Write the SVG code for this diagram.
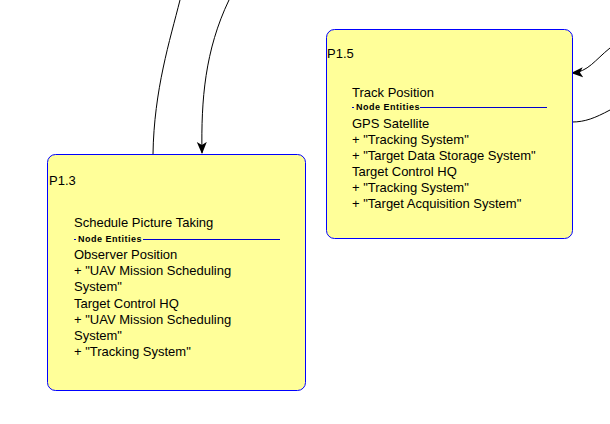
<svg xmlns="http://www.w3.org/2000/svg" width="610" height="424" viewBox="0 0 610 424">
<defs>
<marker id="arr" viewBox="0 0 12 12" refX="11" refY="6" markerWidth="12" markerHeight="12" markerUnits="userSpaceOnUse" orient="auto">
<path d="M0,1 L12,6 L0,11 L3,6 Z" fill="#000"/>
</marker>
<style>
.box{fill:#ffff99;stroke:#0000ff;stroke-width:1}
.t{font-family:"Liberation Sans",Arial,sans-serif;font-size:13px;fill:#000}
.ne{font-family:"Liberation Sans",Arial,sans-serif;font-size:9px;font-weight:bold;letter-spacing:0.5px;fill:#000}
.sep{stroke:#0000cc;stroke-width:1}
.c{fill:none;stroke:#000;stroke-width:1}
</style>
</defs>
<rect width="610" height="424" fill="#fff"/>
<g id="connectors">
<path class="c" d="M153,154 C154,90 170,40 180,0"/>
<path class="c" d="M229,0 C205,50 201,100 202,153" marker-end="url(#arr)"/>
<path class="c" d="M610,48 C595,60 588,72 572,73" marker-end="url(#arr)"/>
<path class="c" d="M610,110 C595,118 585,122 572,122"/>
</g>
<g id="P1.3">
<rect class="box" x="47.5" y="154.5" width="258" height="236" rx="8" ry="8"/>
<text class="t" x="49" y="185">P1.3</text>
<text class="t" x="74" y="227">Schedule Picture Taking</text>
<line class="sep" x1="74" y1="239.5" x2="76" y2="239.5"/>
<text class="ne" x="78" y="242">Node Entities</text>
<line class="sep" x1="143" y1="239.5" x2="280" y2="239.5"/>
<text class="t" x="74" y="259">Observer Position</text>
<text class="t" x="74" y="275">+ "UAV Mission Scheduling</text>
<text class="t" x="74" y="291">System"</text>
<text class="t" x="74" y="308">Target Control HQ</text>
<text class="t" x="74" y="324">+ "UAV Mission Scheduling</text>
<text class="t" x="74" y="340">System"</text>
<text class="t" x="74" y="356">+ "Tracking System"</text>
</g>
<g id="P1.5">
<rect class="box" x="326.5" y="29.5" width="246" height="209" rx="8" ry="8"/>
<text class="t" x="327" y="58">P1.5</text>
<text class="t" x="352" y="97">Track Position</text>
<line class="sep" x1="352" y1="107.5" x2="354" y2="107.5"/>
<text class="ne" x="356" y="110">Node Entities</text>
<line class="sep" x1="420" y1="107.5" x2="547" y2="107.5"/>
<text class="t" x="352" y="128">GPS Satellite</text>
<text class="t" x="352" y="144">+ "Tracking System"</text>
<text class="t" x="352" y="160">+ "Target Data Storage System"</text>
<text class="t" x="352" y="176">Target Control HQ</text>
<text class="t" x="352" y="192">+ "Tracking System"</text>
<text class="t" x="352" y="208">+ "Target Acquisition System"</text>
</g>
</svg>
